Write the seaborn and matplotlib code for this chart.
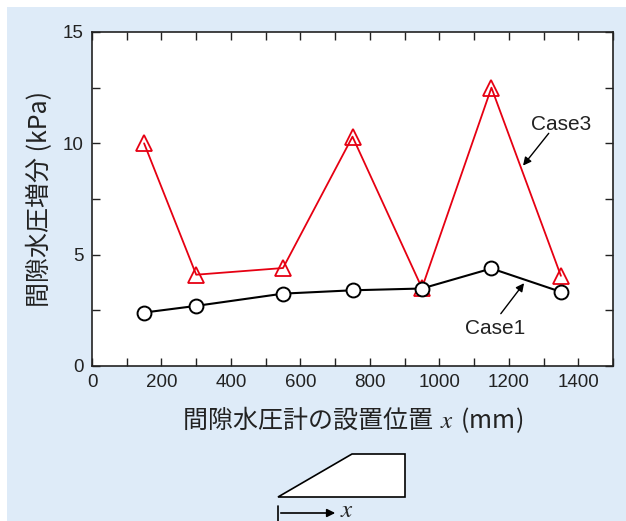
import numpy as np
import pandas as pd
import seaborn as sns
import matplotlib.pyplot as plt
from matplotlib.patches import Rectangle, Polygon, FancyArrowPatch
from matplotlib.lines import Line2D
from matplotlib.ticker import MultipleLocator

# 間隙水圧計の設置位置 (mm)
x_pos = [150, 300, 550, 750, 950, 1150, 1350]
# 間隙水圧増分 (kPa)
case1 = [2.4, 2.7, 3.25, 3.4, 3.48, 4.38, 3.33]
case3 = [10.0, 4.1, 4.4, 10.3, 3.5, 12.5, 4.05]

df1 = pd.DataFrame({'x': x_pos, 'p': case1})
df3 = pd.DataFrame({'x': x_pos, 'p': case3})

sns.set_style('ticks')
plt.rcParams['font.family'] = ['Liberation Sans', 'Noto Sans CJK JP', 'DejaVu Sans']
plt.rcParams['mathtext.fontset'] = 'stix'
jp = ['Noto Sans CJK JP', 'DejaVu Sans']

fig = plt.figure(figsize=(6.26, 5.21), dpi=100)
fig.patch.set_facecolor('white')
# 背景の水色ボックス
fig.add_artist(Rectangle((7 / 626, 0), 1, 1 - 7 / 521, transform=fig.transFigure,
                         facecolor='#deebf8', edgecolor='none', zorder=0))

ax = fig.add_axes([92 / 626, 155 / 521, 521 / 626, 334 / 521])
ax.set_facecolor('white')

red = '#e60012'
sns.lineplot(data=df3, x='x', y='p', ax=ax, color=red, linewidth=1.3,
             marker='^', markersize=11, markerfacecolor='none',
             markeredgecolor=red, markeredgewidth=1.3, zorder=3)
sns.lineplot(data=df1, x='x', y='p', ax=ax, color='black', linewidth=1.5,
             marker='o', markersize=10, markerfacecolor='white',
             markeredgecolor='black', markeredgewidth=1.4, zorder=4)

ax.set_xlim(0, 1500)
ax.set_ylim(0, 15)
ax.xaxis.set_major_locator(MultipleLocator(200))
ax.xaxis.set_minor_locator(MultipleLocator(100))
ax.yaxis.set_major_locator(MultipleLocator(5))
ax.yaxis.set_minor_locator(MultipleLocator(2.5))
ax.tick_params(which='both', direction='in', top=True, right=True,
               length=6, width=1.0, color='#222222', labelsize=13.5, pad=6,
               labelcolor='#222222')
for s in ax.spines.values():
    s.set_linewidth(1.2)
    s.set_color('#222222')

ax.set_xlabel('間隙水圧計の設置位置 $\\,x\\,$ (mm)', fontsize=18, family=jp,
              labelpad=9, color='#222222')
ax.set_ylabel('間隙水圧増分 (kPa)', fontsize=18, family=jp, labelpad=7,
              color='#222222')

# 引出し線付きラベル
ax.annotate('', xy=(1241, 9.0), xytext=(1315, 10.45),
            arrowprops=dict(arrowstyle='-|>', color='black', lw=1.0,
                            mutation_scale=12, shrinkA=0, shrinkB=0))
ax.text(1350, 10.85, 'Case3', fontsize=15, color='#222222', ha='center', va='center')
ax.annotate('', xy=(1244, 3.72), xytext=(1177, 2.35),
            arrowprops=dict(arrowstyle='-|>', color='black', lw=1.0,
                            mutation_scale=12, shrinkA=0, shrinkB=0))
ax.text(1160, 1.7, 'Case1', fontsize=15, color='#222222', ha='center', va='center')

# 模型断面の略図
W, H = 626, 521
def fc(px, py):
    return (px / W, 1 - py / H)
fig.add_artist(Polygon([fc(278, 497), fc(352, 454), fc(405, 454), fc(405, 497)],
                       closed=True, transform=fig.transFigure, facecolor='white',
                       edgecolor='black', linewidth=1.2, zorder=5))
fig.add_artist(Line2D([278 / W, 278 / W], [1 - 506 / H, 1 - 521 / H],
                      transform=fig.transFigure, color='black', lw=1.2, zorder=5))
fig.add_artist(FancyArrowPatch(fc(278, 513), fc(338, 513), transform=fig.transFigure,
                               arrowstyle='-|>', mutation_scale=12, color='black',
                               lw=1.2, zorder=5))
fig.text(347 / W, 1 - 510 / H, '$x$', fontsize=18, ha='center', va='center')

fig.savefig('out.png', dpi=100, facecolor=fig.get_facecolor())
